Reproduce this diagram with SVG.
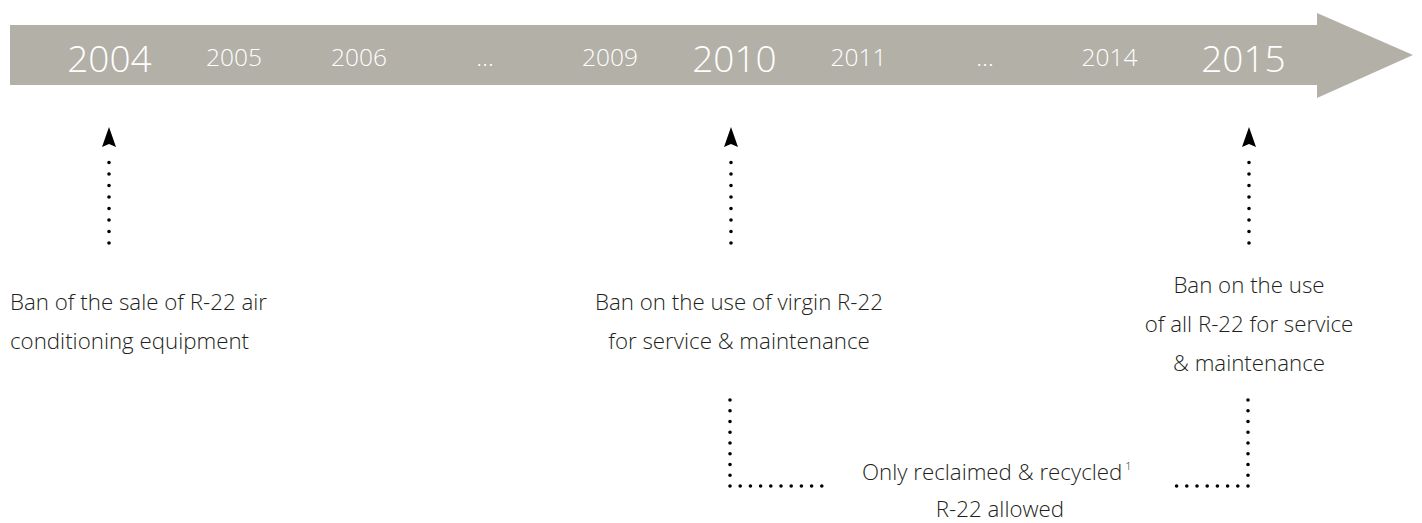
<svg xmlns="http://www.w3.org/2000/svg" xmlns:xlink="http://www.w3.org/1999/xlink" width="1422" height="523" viewBox="0 0 1422 523">
<style>
.yr{font-family:"Open Sans","Liberation Sans",sans-serif;font-weight:300;fill:#ffffff;text-anchor:middle;}
.big{font-size:37px;}
.sm{font-size:24.5px;}
.lbl{font-family:"Open Sans","Liberation Sans",sans-serif;font-weight:300;font-size:22.3px;fill:#231f20;}
.c{text-anchor:middle;}
.dot{fill:none;stroke:#000;stroke-width:3.6;stroke-linecap:round;}
.v{stroke-dasharray:0 11.5;}
.b{stroke-dasharray:0 10.75;}
.h{stroke-dasharray:0 10.2;}
</style>
<defs>
<path id="ah" d="M0 0 L7 20 L0 17 L-7 20 Z" fill="#000"/>
</defs>
<rect width="1422" height="523" fill="#ffffff"/>
<g id="timeline">
<path d="M10 25 H1317 V13 L1413 55 L1317 98 V85 H10 Z" fill="#b3b0a8"/>
<text class="yr big" x="109.5" y="72">2004</text>
<text class="yr sm" x="234" y="66">2005</text>
<text class="yr sm" x="359" y="66">2006</text>
<text class="yr sm" x="485" y="66">…</text>
<text class="yr sm" x="610" y="66">2009</text>
<text class="yr big" x="734.5" y="72">2010</text>
<text class="yr sm" x="858.5" y="66">2011</text>
<text class="yr sm" x="985" y="66">…</text>
<text class="yr sm" x="1109.5" y="66">2014</text>
<text class="yr big" x="1243.5" y="72">2015</text>
</g>
<g id="connectors">
<use xlink:href="#ah" x="109" y="127"/>
<path class="dot v" d="M109 243 V151"/>
<use xlink:href="#ah" x="731" y="127"/>
<path class="dot v" d="M731 243 V151"/>
<use xlink:href="#ah" x="1249" y="127"/>
<path class="dot v" d="M1249 243 V151"/>
<path class="dot b" d="M730 400 V486"/>
<path class="dot h" d="M730 486 H822"/>
<path class="dot b" d="M1248 400 V486"/>
<path class="dot h" d="M1248 486 H1172"/>
</g>
<g id="node-2004">
<text class="lbl" x="10" y="310">Ban of the sale of R-22 air</text>
<text class="lbl" x="10" y="349">conditioning equipment</text>
</g>
<g id="node-2010">
<text class="lbl c" x="739" y="310">Ban on the use of virgin R-22</text>
<text class="lbl c" x="739" y="349">for service &amp; maintenance</text>
</g>
<g id="node-2015">
<text class="lbl c" x="1249" y="293">Ban on the use</text>
<text class="lbl c" x="1249" y="332">of all R-22 for service</text>
<text class="lbl c" x="1249" y="371">&amp; maintenance</text>
</g>
<g id="node-interim">
<text class="lbl" x="862" y="480">Only reclaimed &amp; recycled<tspan font-size="11" dy="-10" dx="3">1</tspan></text>
<text class="lbl c" x="1000" y="517">R-22 allowed</text>
</g>
</svg>
